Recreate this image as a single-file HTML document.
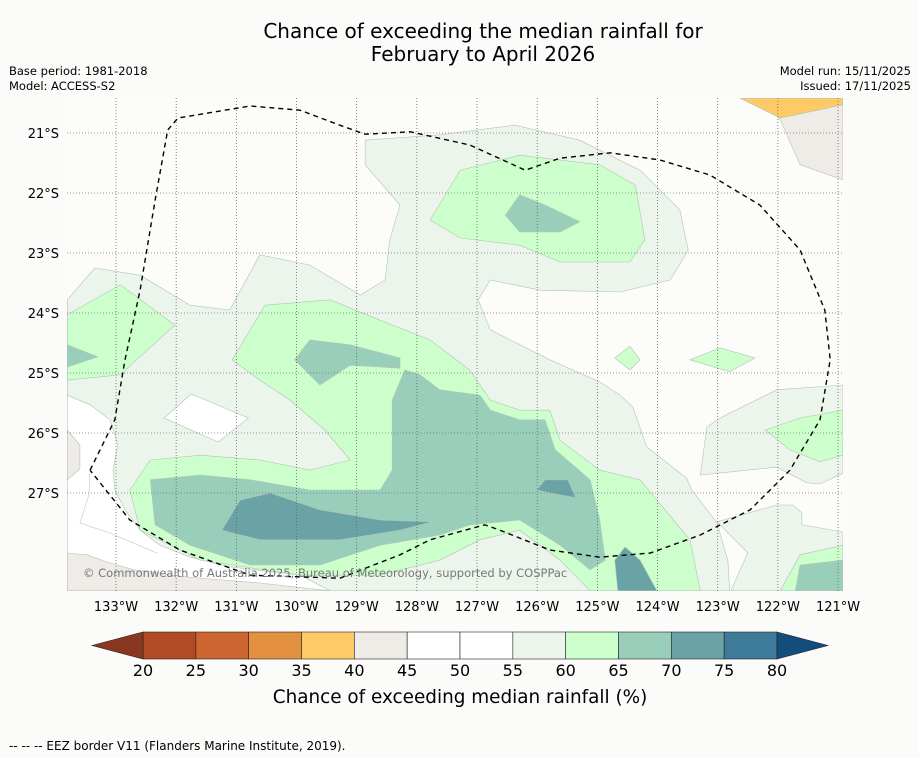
<!DOCTYPE html>
<html><head><meta charset="utf-8">
<style>
html,body{margin:0;padding:0;background:#fbfcfa;}
svg{display:block;font-family:"DejaVu Sans","Liberation Sans",sans-serif;}
</style></head>
<body>
<svg id="chart" width="919" height="758" viewBox="0 0 919 758" xmlns="http://www.w3.org/2000/svg">
<rect width="919" height="758" fill="#fbfcfa"/>
<text x="483" y="38" font-size="20" text-anchor="middle" fill="#000">Chance of exceeding the median rainfall for</text>
<text x="483" y="61" font-size="20" text-anchor="middle" fill="#000">February to April 2026</text>
<text x="9" y="75" font-size="11.5">Base period: 1981-2018</text>
<text x="9" y="90" font-size="11.5">Model: ACCESS-S2</text>
<text x="911" y="75" font-size="11.5" text-anchor="end">Model run: 15/11/2025</text>
<text x="911" y="90" font-size="11.5" text-anchor="end">Issued: 17/11/2025</text>
<defs><clipPath id="mapclip"><rect x="67" y="98" width="776" height="493"/></clipPath></defs>
<g id="map" clip-path="url(#mapclip)">
<rect x="67" y="98" width="776" height="493" fill="#fcfdfb"/>
<g id="regions"></g>
<path id="contour50" fill="none" stroke="#c8d0c8" stroke-width="0.7"/>
<g id="grid"></g>
<path id="eez" fill="none" stroke="#000" stroke-width="1.4" stroke-dasharray="5,4"/>
<text x="83" y="577" font-size="11.5" fill="#777">© Commonwealth of Australia 2025, Bureau of Meteorology, supported by COSPPac</text>
</g>
<g id="ticks"></g>
<g id="colorbar"></g>
<text x="460" y="703" font-size="18.4" text-anchor="middle">Chance of exceeding median rainfall (%)</text>
<text x="9" y="750" font-size="12">--  --  -- EEZ border V11 (Flanders Marine Institute, 2019).</text>
</svg>
<script>
const lonTicks=[-133,-132,-131,-130,-129,-128,-127,-126,-125,-124,-123,-122,-121];
const latTicks=[-21,-22,-23,-24,-25,-26,-27];
const levels=[20,25,30,35,40,45,50,55,60,65,70,75,80];
const levelColors=["#b24a26","#cd6530","#e3913f","#fdca66","#efebe6","#ffffff","#ffffff","#ecf5eb","#ccffcc","#99cfba","#6aa3a6","#3e7a99"];
const lowColor="#8b3620", highColor="#124d7c";
const NS="http://www.w3.org/2000/svg";
function xLon(l){return 116+(l+133)*60.17;}
function yLat(l){return 133-(l+21)*60;}
function xLevel(v){return 143+(v-20)*(634/60);}

const regionA=[[-133.81,-23.78],[-133.35,-23.25],[-132.6,-23.37],[-131.77,-23.87],[-131.11,-23.95],[-130.61,-23.03],[-129.78,-23.2],[-128.94,-23.7],[-128.53,-23.45],[-128.45,-22.78],[-128.28,-22.2],[-128.86,-21.53],[-128.86,-21.12],[-127.62,-21.03],[-126.37,-20.87],[-125.29,-21.12],[-124.29,-21.62],[-123.63,-22.28],[-123.49,-22.95],[-123.79,-23.45],[-124.62,-23.65],[-125.95,-23.62],[-126.78,-23.45],[-126.98,-23.78],[-126.78,-24.28],[-125.79,-24.78],[-124.96,-25.15],[-124.62,-25.37],[-124.41,-25.57],[-124.18,-26.23],[-123.52,-26.75],[-123.43,-26.95],[-123.01,-27.5],[-122.83,-28.13],[-122.8,-28.63],[-133.81,-28.63]];
const regionB=[[-123.29,-26.7],[-123.18,-25.9],[-122.96,-25.75],[-122.02,-25.28],[-120.92,-25.2],[-120.92,-26.67],[-121.3,-26.85],[-121.52,-26.83],[-122.02,-26.57]];
const regionC=[[-123.01,-27.48],[-122.02,-27.2],[-121.75,-27.2],[-121.6,-27.33],[-121.6,-27.53],[-120.92,-27.65],[-120.92,-28.63],[-122.78,-28.63],[-122.5,-28.0]];
const whiteLL=[[-133.81,-25.37],[-133.43,-25.53],[-133.1,-25.78],[-132.97,-26.2],[-133.05,-26.62],[-133.02,-26.95],[-132.85,-27.28],[-132.6,-27.62],[-132.27,-27.87],[-131.77,-28.07],[-131.11,-28.23],[-129.94,-28.37],[-129.44,-28.63],[-133.81,-28.63]];
const whiteDiamond=[[-132.2,-25.75],[-131.75,-25.35],[-130.8,-25.75],[-131.3,-26.15]];
const beigeTR=[[-122.3,-20.42],[-120.92,-20.42],[-120.92,-21.78],[-121.63,-21.53],[-121.96,-20.78]];
const orangeTR=[[-122.63,-20.42],[-120.92,-20.42],[-120.92,-20.53],[-121.96,-20.75]];
const beigeBL=[[-133.81,-28.0],[-133.48,-28.03],[-133.15,-28.15],[-132.7,-28.28],[-131.82,-28.4],[-130.61,-28.5],[-129.44,-28.63],[-133.81,-28.63]];
const beigeL=[[-133.81,-25.95],[-133.6,-26.2],[-133.6,-26.6],[-133.81,-26.78]];
const contour50=[[-133.43,-26.62],[-133.45,-27.03],[-133.6,-27.5],[-133.1,-27.67],[-132.32,-28.0]];
const g1=[[-127.78,-22.45],[-127.28,-21.62],[-126.29,-21.37],[-124.96,-21.53],[-124.37,-21.87],[-124.21,-22.78],[-124.46,-23.15],[-125.62,-23.15],[-126.29,-22.87],[-127.28,-22.75]];
const g2=[[-133.81,-24.03],[-132.93,-23.53],[-132.02,-24.2],[-132.93,-25.03],[-133.81,-25.12]];
const g3=[[-131.07,-24.78],[-130.52,-23.87],[-129.44,-23.78],[-128.61,-24.12],[-127.78,-24.45],[-127.12,-24.95],[-126.78,-25.45],[-126.29,-25.62],[-125.79,-25.62],[-125.62,-26.12],[-124.96,-26.62],[-124.29,-26.78],[-123.46,-27.78],[-123.29,-28.63],[-125.12,-28.63],[-125.62,-28.12],[-126.29,-27.62],[-126.95,-27.78],[-127.62,-28.12],[-128.61,-28.37],[-129.94,-28.37],[-131.6,-28.12],[-132.6,-27.62],[-132.77,-26.95],[-132.43,-26.45],[-131.6,-26.37],[-130.61,-26.45],[-129.78,-26.62],[-129.11,-26.45],[-129.53,-25.95],[-130.11,-25.45],[-130.61,-25.12]];
const g4=[[-122.21,-25.95],[-121.63,-25.75],[-120.92,-25.62],[-120.92,-26.37],[-121.3,-26.48],[-121.8,-26.28]];
const g5=[[-123.46,-24.78],[-122.96,-24.58],[-122.38,-24.75],[-122.8,-24.98]];
const g6=[[-121.96,-28.63],[-121.63,-28.03],[-120.92,-27.87],[-120.92,-28.63]];
const g7=[[-124.71,-24.75],[-124.46,-24.55],[-124.29,-24.78],[-124.46,-24.95]];
const t1=[[-126.53,-22.37],[-126.29,-22.03],[-125.87,-22.2],[-125.29,-22.48],[-125.62,-22.65],[-126.29,-22.65]];
const t2=[[-133.81,-24.53],[-133.3,-24.73],[-133.81,-24.9]];
const t3=[[-130.03,-24.78],[-129.78,-24.45],[-129.11,-24.53],[-128.28,-24.75],[-128.28,-24.92],[-129.11,-24.87],[-129.61,-25.2]];
const t4=[[-132.43,-26.78],[-131.6,-26.7],[-130.77,-26.78],[-129.78,-26.95],[-128.61,-26.95],[-128.41,-26.62],[-128.41,-25.45],[-128.2,-24.95],[-127.95,-25.03],[-127.62,-25.28],[-126.95,-25.37],[-126.78,-25.62],[-126.29,-25.78],[-125.87,-25.78],[-125.7,-26.28],[-125.12,-26.78],[-124.96,-27.45],[-124.87,-28.12],[-125.12,-28.28],[-125.62,-27.87],[-126.29,-27.45],[-127.12,-27.53],[-127.62,-27.7],[-128.61,-27.87],[-129.61,-28.2],[-130.77,-28.2],[-131.77,-27.87],[-132.35,-27.53]];
const t5=[[-121.63,-28.2],[-120.92,-28.12],[-120.92,-28.63],[-121.71,-28.63]];
const d1=[[-131.24,-27.62],[-130.94,-27.12],[-130.44,-27.0],[-129.61,-27.28],[-128.61,-27.45],[-127.75,-27.48],[-128.28,-27.62],[-129.28,-27.78],[-130.61,-27.78]];
const d2=[[-126.01,-26.95],[-125.87,-26.78],[-125.49,-26.78],[-125.36,-27.08],[-125.62,-27.03]];
const d3=[[-124.71,-28.12],[-124.54,-27.9],[-124.29,-28.12],[-124.01,-28.63],[-124.66,-28.63]];
const eezLine=[[-133.43,-26.62],[-133.02,-25.78],[-132.85,-24.78],[-132.6,-23.62],[-132.35,-22.12],[-132.14,-20.95],[-131.97,-20.75],[-130.77,-20.55],[-129.94,-20.62],[-129.28,-20.87],[-128.86,-21.02],[-128.11,-20.98],[-127.12,-21.2],[-126.2,-21.62],[-125.62,-21.42],[-124.79,-21.33],[-123.96,-21.45],[-123.13,-21.7],[-122.3,-22.2],[-121.63,-22.95],[-121.22,-23.95],[-121.13,-24.78],[-121.3,-25.78],[-121.8,-26.62],[-122.46,-27.28],[-123.29,-27.7],[-124.12,-28.0],[-124.96,-28.07],[-125.79,-27.95],[-126.62,-27.62],[-126.87,-27.53],[-127.78,-27.78],[-128.28,-28.03],[-129.28,-28.42],[-130.77,-28.37],[-131.94,-27.95],[-132.77,-27.45],[-133.43,-26.62]];

const layers=[
 [regionA,7,"band-55-60-main"],[regionB,7,"band-55-60-east"],[regionC,7,"band-55-60-southeast"],
 [whiteLL,5,"band-45-50-southwest"],[whiteDiamond,5,"band-45-50-patch"],
 [beigeTR,4,"band-40-45-northeast"],[orangeTR,3,"band-35-40-northeast"],[beigeBL,4,"band-40-45-southwest"],[beigeL,4,"band-40-45-west"],
 [g1,8,"band-60-65-north"],[g2,8,"band-60-65-west"],[g3,8,"band-60-65-central"],[g4,8,"band-60-65-east"],[g5,8,"band-60-65-small"],[g6,8,"band-60-65-southeast"],[g7,8,"band-60-65-dot"],
 [t1,9,"band-65-70-north"],[t2,9,"band-65-70-west"],[t3,9,"band-65-70-central"],[t4,9,"band-65-70-south"],[t5,9,"band-65-70-southeast"],
 [d1,10,"band-70-75-south"],[d2,10,"band-70-75-patch"],[d3,10,"band-70-75-southeast"]
];
function pathOf(pts,close){return pts.map((p,i)=>(i?"L":"M")+xLon(p[0]).toFixed(1)+","+yLat(p[1]).toFixed(1)).join("")+(close?"Z":"");}
const rg=document.getElementById("regions");
layers.forEach(L=>{
 const p=document.createElementNS(NS,"path");
 p.setAttribute("d",pathOf(L[0],true));
 p.setAttribute("fill",levelColors[L[1]]);
 p.setAttribute("stroke","#b5c2b5");
 p.setAttribute("stroke-width","0.6");
 
 
 rg.appendChild(p);
});
document.getElementById("contour50").setAttribute("d",pathOf(contour50,false));
const gg=document.getElementById("grid"), tk=document.getElementById("ticks");
lonTicks.forEach(l=>{
 const x=xLon(l);
 const ln=document.createElementNS(NS,"line");
 ln.setAttribute("x1",x);ln.setAttribute("x2",x);ln.setAttribute("y1",98);ln.setAttribute("y2",591);
 ln.setAttribute("stroke","#666");ln.setAttribute("stroke-width","0.8");ln.setAttribute("stroke-dasharray","1,2");
 
 
 gg.appendChild(ln);
 const t=document.createElementNS(NS,"text");
 t.setAttribute("x",x);t.setAttribute("y",611);t.setAttribute("font-size","13");t.setAttribute("text-anchor","middle");
 t.textContent=Math.abs(l)+"°W";
 
 
 tk.appendChild(t);
});
latTicks.forEach(l=>{
 const y=yLat(l);
 const ln=document.createElementNS(NS,"line");
 ln.setAttribute("x1",67);ln.setAttribute("x2",843);ln.setAttribute("y1",y);ln.setAttribute("y2",y);
 ln.setAttribute("stroke","#777");ln.setAttribute("stroke-width","0.8");ln.setAttribute("stroke-dasharray","1,2");
 
 
 gg.appendChild(ln);
 const t=document.createElementNS(NS,"text");
 t.setAttribute("x",59);t.setAttribute("y",y+5);t.setAttribute("font-size","13");t.setAttribute("text-anchor","end");
 t.textContent=Math.abs(l)+"°S";
 
 
 tk.appendChild(t);
});
document.getElementById("eez").setAttribute("d",pathOf(eezLine,false));

const cb=document.getElementById("colorbar");
const cy=632,ch=27;
for(let i=0;i<levelColors.length;i++){
 const r=document.createElementNS(NS,"rect");
 const x0=xLevel(levels[i]),x1=xLevel(levels[i+1]);
 r.setAttribute("x",x0);r.setAttribute("y",cy);r.setAttribute("width",x1-x0);r.setAttribute("height",ch);
 r.setAttribute("fill",levelColors[i]);r.setAttribute("stroke","#222");r.setAttribute("stroke-width","0.6");
 
 
 cb.appendChild(r);
}
const lt=document.createElementNS(NS,"polygon");
lt.setAttribute("points",`${xLevel(20)},${cy} 92,${cy+ch/2} ${xLevel(20)},${cy+ch}`);
lt.setAttribute("fill",lowColor);lt.setAttribute("stroke","#222");lt.setAttribute("stroke-width","0.6");


cb.appendChild(lt);
const rt=document.createElementNS(NS,"polygon");
rt.setAttribute("points",`${xLevel(80)},${cy} 828,${cy+ch/2} ${xLevel(80)},${cy+ch}`);
rt.setAttribute("fill",highColor);rt.setAttribute("stroke","#222");rt.setAttribute("stroke-width","0.6");


cb.appendChild(rt);
levels.forEach(v=>{
 const t=document.createElementNS(NS,"text");
 t.setAttribute("x",xLevel(v));t.setAttribute("y",676);t.setAttribute("font-size","16");t.setAttribute("text-anchor","middle");
 t.textContent=v;
 
 
 cb.appendChild(t);
});
</script>
</body></html>
